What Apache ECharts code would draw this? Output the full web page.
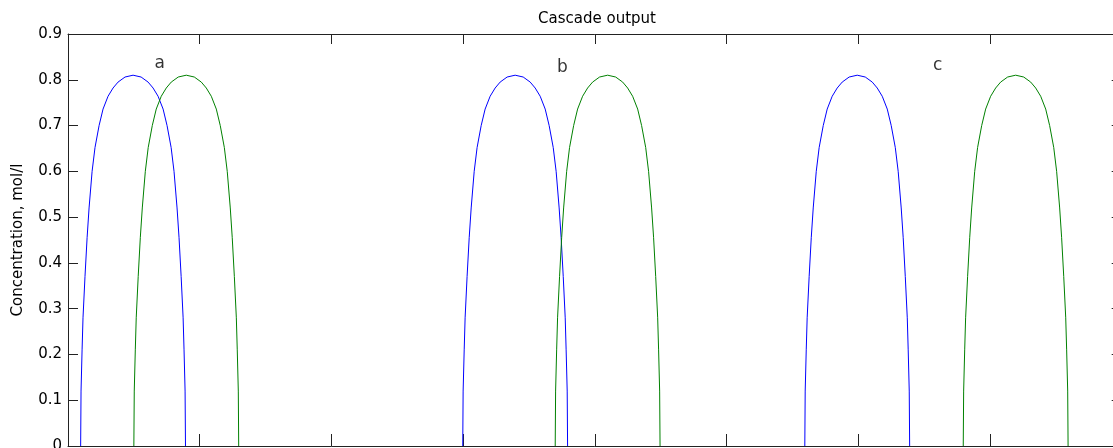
<!DOCTYPE html>
<html>
<head>
<meta charset="utf-8">
<script src="https://cdn.jsdelivr.net/npm/echarts@6/dist/echarts.min.js"></script>
<style>
  html, body { margin: 0; padding: 0; background: #fff; overflow: hidden; }
  #chart { width: 1130px; height: 448px; }
</style>
</head>
<body>
<div id="chart"></div>
<script>
// shared pulse profile (concentration, mol/l)
const pulseConc = [0, 0.12, 0.21, 0.28, 0.37, 0.455, 0.52, 0.60, 0.652, 0.70, 0.736, 0.764, 0.782, 0.795, 0.806, 0.81,
  0.806, 0.795, 0.782, 0.764, 0.736, 0.70, 0.652, 0.60, 0.52, 0.455, 0.37, 0.28, 0.21, 0.12, 0];

// x positions of each pulse
const blueA = [0.096, 0.099, 0.107, 0.114, 0.129, 0.145, 0.160, 0.183, 0.205, 0.236, 0.266, 0.304, 0.342, 0.380, 0.433, 0.494,
  0.555, 0.608, 0.646, 0.684, 0.722, 0.752, 0.783, 0.805, 0.828, 0.843, 0.859, 0.874, 0.881, 0.889, 0.892];
const greenA = [0.500, 0.503, 0.511, 0.518, 0.533, 0.549, 0.564, 0.587, 0.609, 0.640, 0.670, 0.708, 0.746, 0.784, 0.837, 0.898,
  0.959, 1.012, 1.050, 1.088, 1.126, 1.156, 1.187, 1.209, 1.232, 1.247, 1.263, 1.278, 1.285, 1.293, 1.296];
const blueB = [2.997, 3.000, 3.008, 3.015, 3.030, 3.046, 3.061, 3.084, 3.106, 3.137, 3.167, 3.205, 3.243, 3.281, 3.334, 3.395,
  3.456, 3.509, 3.547, 3.585, 3.623, 3.653, 3.684, 3.706, 3.729, 3.744, 3.760, 3.775, 3.782, 3.790, 3.793];
const greenB = [3.699, 3.702, 3.710, 3.717, 3.732, 3.748, 3.763, 3.786, 3.808, 3.839, 3.869, 3.907, 3.945, 3.983, 4.036, 4.097,
  4.158, 4.211, 4.249, 4.287, 4.325, 4.355, 4.386, 4.408, 4.431, 4.446, 4.462, 4.477, 4.484, 4.492, 4.495];
const blueC = [5.594, 5.597, 5.605, 5.612, 5.627, 5.643, 5.658, 5.681, 5.703, 5.734, 5.764, 5.802, 5.840, 5.878, 5.931, 5.992,
  6.053, 6.106, 6.144, 6.182, 6.220, 6.250, 6.281, 6.303, 6.326, 6.341, 6.357, 6.372, 6.379, 6.387, 6.390];
const greenC = [6.797, 6.800, 6.808, 6.815, 6.830, 6.846, 6.861, 6.884, 6.906, 6.937, 6.967, 7.005, 7.043, 7.081, 7.134, 7.195,
  7.256, 7.309, 7.347, 7.385, 7.423, 7.453, 7.484, 7.506, 7.529, 7.544, 7.560, 7.575, 7.582, 7.590, 7.593];

// text annotations
const noteText = ["a", "b", "c"];
const noteX = [0.697, 3.753, 6.603];
const noteY = [0.836, 0.826, 0.832];

const FONT = "DejaVu Sans";

const pairs = (xs) => xs.map((x, i) => [x, pulseConc[i]]);

const pulse = (xs, color) => ({
  type: "line",
  data: pairs(xs),
  showSymbol: false,
  symbol: "none",
  lineStyle: { color: color, width: 1 },
  z: 3,
});

const boxAxis = {
  min: 0,
  axisLine: { show: true, onZero: false, lineStyle: { color: "#222", width: 1 } },
  axisTick: { show: true, inside: true, lineStyle: { color: "#222" } },
  splitLine: { show: false },
};

const chart = echarts.init(document.getElementById("chart"));
chart.setOption({
  animation: false,
  backgroundColor: "#fff",
  title: {
    text: "Cascade output",
    left: 592,
    textAlign: "center",
    top: 7,
    textStyle: { fontFamily: FONT, fontSize: 15, fontWeight: "normal", color: "#000" },
  },
  grid: {
    left: 68,
    top: 34,
    right: 8.3,
    bottom: 2,
    containLabel: false,
    outerBoundsMode: "none",
  },
  xAxis: [
    { ...boxAxis, type: "value", position: "bottom", max: 8, interval: 1,
      axisTick: { ...boxAxis.axisTick, length: 12 }, axisLabel: { show: false } },
    { ...boxAxis, type: "value", position: "top", max: 8, interval: 1,
      axisTick: { ...boxAxis.axisTick, length: 10 }, axisLabel: { show: false } },
  ],
  yAxis: [
    { ...boxAxis, type: "value", position: "left", max: 0.9, interval: 0.1,
      axisTick: { ...boxAxis.axisTick, length: 10 },
      axisLabel: { margin: 6, fontFamily: FONT, fontSize: 15, color: "#000" },
      name: "Concentration, mol/l",
      nameLocation: "middle",
      nameRotate: 90,
      nameGap: 42,
      nameTextStyle: { fontFamily: FONT, fontSize: 15, color: "#000" } },
    { ...boxAxis, type: "value", position: "right", max: 0.9, interval: 0.1,
      axisTick: { ...boxAxis.axisTick, length: 10 }, axisLabel: { show: false } },
  ],
  series: [
    pulse(blueA, "#0000ff"),
    pulse(greenA, "#008000"),
    pulse(blueB, "#0000ff"),
    pulse(greenB, "#008000"),
    pulse(blueC, "#0000ff"),
    pulse(greenC, "#008000"),
    {
      type: "scatter",
      symbolSize: 0,
      data: noteText.map((t, i) => ({ value: [noteX[i], noteY[i]], name: t })),
      label: {
        show: true,
        position: "inside",
        formatter: (p) => p.name,
        fontFamily: FONT,
        fontSize: 17,
        color: "#000",
      },
      z: 4,
    },
  ],
});
</script>
</body>
</html>
